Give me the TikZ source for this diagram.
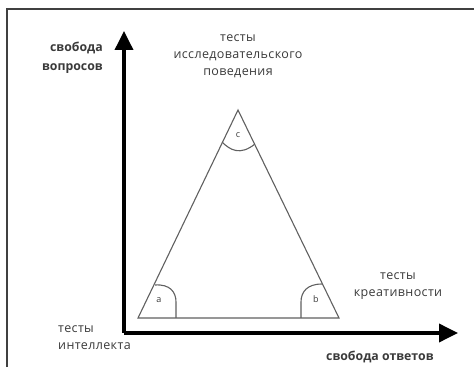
\documentclass[tikz,border=0pt]{standalone}
\usepackage{fontspec}
\setmainfont{Open Sans}
\newfontfamily\spaced[LetterSpace=3]{Open Sans}
\usetikzlibrary{arrows.meta}
\definecolor{txt}{HTML}{3A3A3A}
\definecolor{tri}{HTML}{606060}
\begin{document}
\begin{tikzpicture}[x=1pt,y=-1pt,
  axis/.style={line width=3.6pt,-{Triangle[length=19pt,width=18pt]}},
  triline/.style={draw=tri,line width=1.1pt},
  lbl/.style={text=txt,font=\spaced\fontsize{12.5}{17}\selectfont,inner sep=0pt,align=center},
  blbl/.style={text=txt,font=\fontsize{12.3}{19}\selectfont\bfseries,inner sep=0pt},
  vlbl/.style={text=txt,font=\fontsize{9}{10}\selectfont,inner sep=0pt}]
\useasboundingbox (0,0) rectangle (474,379);
% frame
\draw[draw=black!75,line width=1.5pt] (7,367) -- (7,9) -- (474,9);
% axes
\coordinate (O) at (124,333);
\coordinate (Ytip) at (124,31);
\coordinate (Xtip) at (458,333);
\draw[axis] (O) -- (Ytip);
\draw[axis] (O) -- (Xtip);
% triangle
\coordinate (A) at (138,318);
\coordinate (B) at (339,318);
\coordinate (C) at (238,110);
\draw[triline,line join=miter] (A) -- (B) -- (C) -- cycle;
% angle marks
\coordinate (a1) at (155,285);
\coordinate (a2) at (176,318);
\draw[triline] (a1) .. controls (170,284) and (176,292) .. (176,302) -- (a2);
\coordinate (b1) at (322,284);
\coordinate (b2) at (301,318);
\draw[triline] (b1) .. controls (307,284) and (301,292) .. (301,302) -- (b2);
\coordinate (c1) at (222,142);
\coordinate (c2) at (255,144);
\draw[triline] (c1) .. controls (230,150) and (240,156) .. (c2);
\node[vlbl] (la) at (159,300) {a};
\node[vlbl] (lb) at (316,299) {b};
\node[vlbl] (lc) at (238,135) {c};
% labels
\node[blbl,align=right,anchor=east] (yl) at (103,57.5) {свобода\\вопросов};
\node[lbl] (top) at (238,56) {тесты\\исследовательского\\поведения};
\node[lbl] (cre) at (398,286.5) {тесты\\креативности};
\node[lbl,align=left,anchor=west] (int) at (58,337.5) {тесты\\интеллекта};
\node[blbl,anchor=west] (xl) at (326,357) {свобода ответов};
\end{tikzpicture}
\end{document}
